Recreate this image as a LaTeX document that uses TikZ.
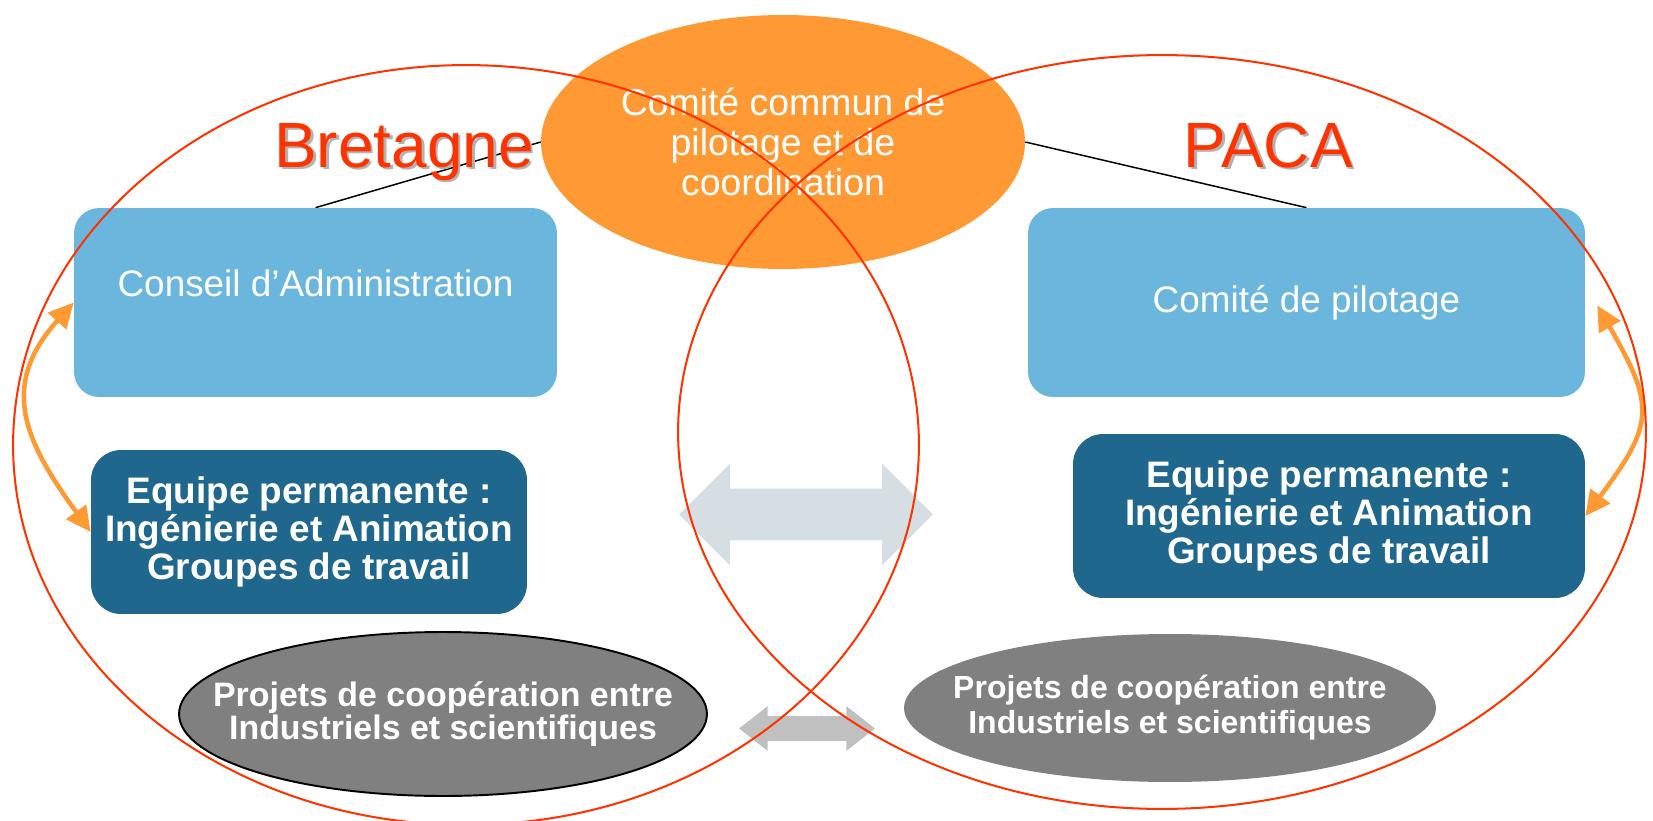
\documentclass[tikz,border=0pt]{standalone}
\usepackage{fontspec}
\setmainfont{Liberation Sans}
\usetikzlibrary{arrows.meta, positioning, shapes.geometric, shapes.arrows, backgrounds}

\definecolor{zonered}{HTML}{FF3300}
\definecolor{pilotorange}{HTML}{FF9933}
\definecolor{boardblue}{HTML}{6BB6DD}
\definecolor{teamblue}{HTML}{1F678C}
\definecolor{projgray}{HTML}{808080}
\definecolor{linkgray}{HTML}{D5DEE2}
\definecolor{smallgray}{HTML}{C0C0C0}

\newcommand{\titleshadow}[1]{\makebox[0pt][l]{\hspace{1.6pt}\raisebox{-1.6pt}{\textcolor{black!30}{#1}}}#1}

\begin{document}
\begin{tikzpicture}[x=0.02cm, y=0.02cm,
            zone/.style={ellipse, draw=zonered, line width=1.15pt, inner sep=0pt},
            board/.style={fill=boardblue, rounded corners=0.5cm, text=white, inner sep=0pt, minimum height=3.78cm, font=\fontsize{21}{24}\selectfont},
            team/.style={fill=teamblue, rounded corners=0.6cm, text=white, align=center, inner sep=0pt, minimum height=3.28cm, font=\bfseries\fontsize{21}{21.6}\selectfont},
            project/.style={ellipse, fill=projgray, text=white, align=center, inner sep=-1cm},
            regiontitle/.style={text=zonered, anchor=base, font=\fontsize{36.4}{40}\selectfont},
            link/.style={{Triangle[length=0.5cm, width=0.48cm]}-{Triangle[length=0.5cm, width=0.48cm]}, line width=2.6pt, draw=pilotorange}]

            \useasboundingbox (0,0) rectangle (1653,-821);

            % Region titles
            \node[regiontitle] (bretagne) at (404,-167) {\titleshadow{Bretagne}};
            \node[regiontitle] (paca) at (1268,-167) {\titleshadow{PACA}};

            % Common steering committee
            \node[ellipse, fill=pilotorange, minimum width=9.68cm, minimum height=5.08cm, inner sep=0pt,
                text=white, align=center, font=\fontsize{21.3}{22.8}\selectfont] (steering) at (783,-142)
                {Comité commun de\\pilotage et de\\coordination};

            % Boards
            \node[board, minimum width=9.66cm, text depth=0.78cm] (conseil) at (315.5,-302.5) {Conseil d’Administration};
            \node[board, minimum width=11.14cm] (comite) at (1306.5,-302.5) {Comité de pilotage};

            % Permanent teams
            \node[team, minimum width=8.72cm] (equipeL) at (309,-532) {Equipe permanente~:\\Ingénierie et Animation\\Groupes de travail};
            \node[team, minimum width=10.24cm] (equipeR) at (1329,-516) {Equipe permanente~:\\Ingénierie et Animation\\Groupes de travail};

            % Cooperation projects
            \node[project, draw=black, line width=1.1pt, minimum width=10.56cm, minimum height=3.28cm,
                font=\bfseries\fontsize{19.3}{18.6}\selectfont] (projetL) at (443,-714)
                {Projets de coopération entre\\Industriels et scientifiques};
            \node[project, minimum width=10.64cm, minimum height=2.96cm,
                font=\bfseries\fontsize{18.2}{19.9}\selectfont] (projetR) at (1170,-708)
                {Projets de coopération entre\\Industriels et scientifiques};

            % Exchanges between the regions
            \node[double arrow, fill=linkgray, inner sep=0pt, text height=1.02cm, text depth=0pt, minimum width=0pt,
                minimum height=5.08cm, double arrow head extend=0.5cm] (exchange) at (806,-514.5) {};
            \node[double arrow, fill=smallgray, inner sep=0pt, text height=0.48cm, text depth=0pt, minimum width=0pt,
                minimum height=2.72cm, double arrow head extend=0.2cm, double arrow tip angle=76] (projexchange) at (807,-728.5) {};

            % Links to the common committee
            \begin{scope}[on background layer]
                \draw[line width=0.85pt] (conseil.north) -- (steering.west);
                \draw[line width=0.85pt] (comite.north) -- (steering.east);
            \end{scope}

            % Board <-> team
            \draw[link] (conseil.west) to[out=228, in=126, looseness=1.25] (equipeL.west);
            \draw[link] ([xshift=0.24cm, yshift=-0.06cm]comite.east) to[out=-60, in=53, looseness=1.4] (equipeR.east);

            % Regions
            \node[zone, minimum width=18.12cm, minimum height=15.2cm] (bretagneZone) at (466,-445) {};
            \node[zone, minimum width=19.36cm, minimum height=15.08cm] (pacaZone) at (1162,-432) {};
        \end{tikzpicture}
\end{document}
